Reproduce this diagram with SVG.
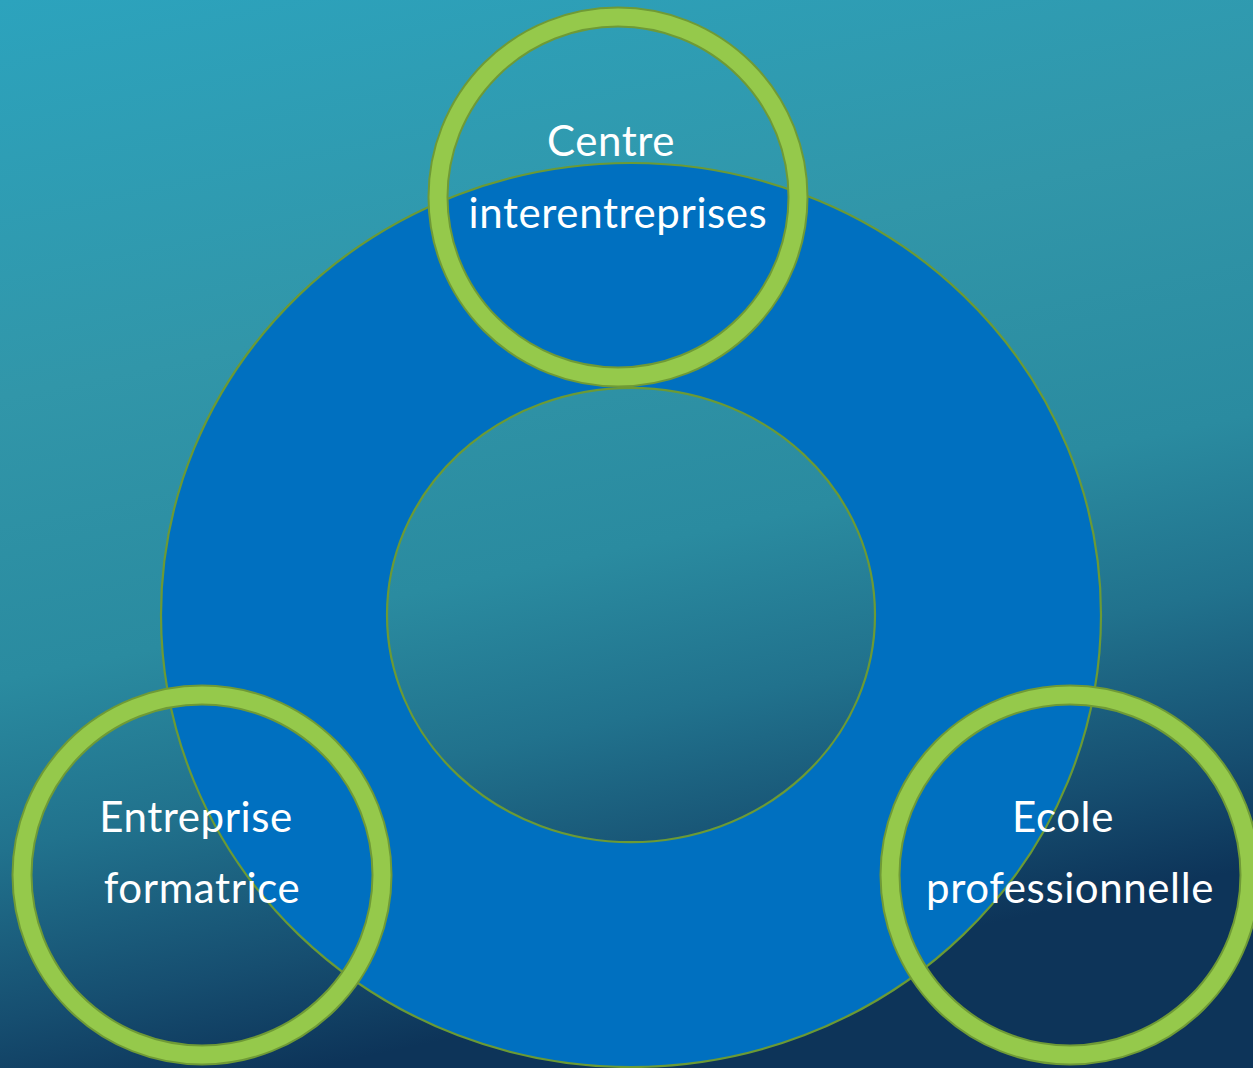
<svg xmlns="http://www.w3.org/2000/svg" width="1253" height="1068" viewBox="0 0 1253 1068">
<defs>
<linearGradient id="bg" x1="0" y1="0" x2="0.25" y2="1">
<stop offset="0" stop-color="#2ca3bd"/>
<stop offset="0.35" stop-color="#3196a9"/>
<stop offset="0.6" stop-color="#2a8ba0"/>
<stop offset="0.75" stop-color="#21728d"/>
<stop offset="0.9" stop-color="#164e70"/>
<stop offset="1" stop-color="#0d3459"/>
</linearGradient>
<style>
.ring-o{fill:none;stroke:#6f9a36;stroke-width:21}
.ring-i{fill:none;stroke:#95c94b;stroke-width:17}
.lbl{font-family:"Lato","Open Sans",sans-serif;font-size:42px;letter-spacing:0.6px;fill:#ffffff;text-anchor:middle}
</style>
</defs>
<rect width="1253" height="1068" fill="url(#bg)"/>
<g id="donut">
<path d="M161,615 a470,452 0 1,0 940,0 a470,452 0 1,0 -940,0 Z M387,615 a244,227 0 1,0 488,0 a244,227 0 1,0 -488,0 Z" fill="#0070c0" fill-rule="evenodd" stroke="#6b9a35" stroke-width="2.2"/>
</g>
<g id="connectors"></g>
<g id="centre">
<circle class="ring-o" cx="618" cy="197" r="180"/>
<circle class="ring-i" cx="618" cy="197" r="180"/>
<text class="lbl" x="611" y="156">Centre</text>
<text class="lbl" x="618" y="228">interentreprises</text>
</g>
<g id="entreprise">
<circle class="ring-o" cx="202" cy="875" r="180"/>
<circle class="ring-i" cx="202" cy="875" r="180"/>
<text class="lbl" x="196" y="832">Entreprise</text>
<text class="lbl" x="202" y="903">formatrice</text>
</g>
<g id="ecole">
<circle class="ring-o" cx="1070" cy="875" r="180"/>
<circle class="ring-i" cx="1070" cy="875" r="180"/>
<text class="lbl" x="1063" y="832">Ecole</text>
<text class="lbl" x="1070" y="903">professionnelle</text>
</g>
</svg>
